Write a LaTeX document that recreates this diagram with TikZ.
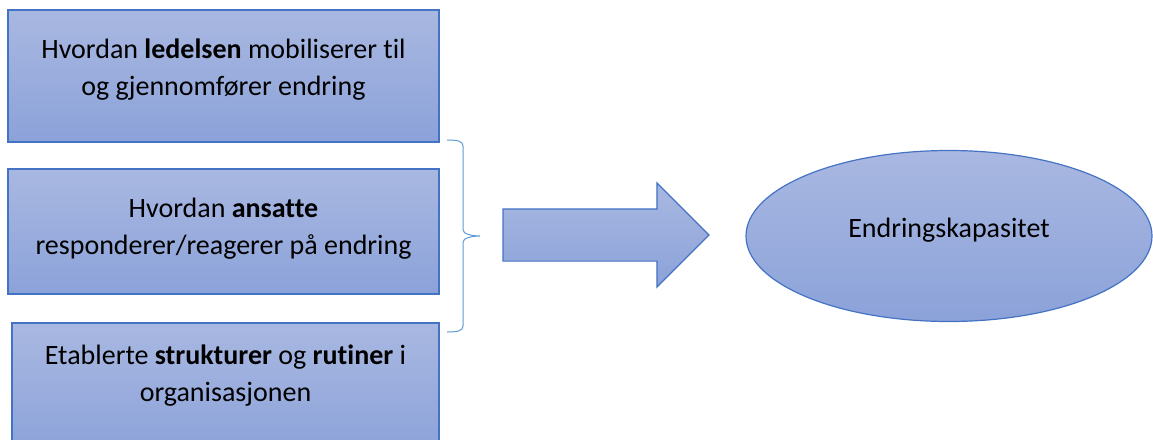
\documentclass[tikz,border=0pt]{standalone}
\usepackage{fontspec}
\setmainfont[Ligatures=NoCommon]{Carlito}
\usetikzlibrary{shapes.geometric,shapes.arrows}
\definecolor{fillTop}{HTML}{A9B8E1}
\definecolor{fillBot}{HTML}{8BA2D9}
\definecolor{edgeBlue}{HTML}{4472C4}
\definecolor{braceBlue}{HTML}{5B9BD5}
\tikzset{shade blue/.style={top color=fillTop,bottom color=fillBot,draw=edgeBlue,line width=1.2pt},
box/.style={shade blue,minimum width=431pt,minimum height=132pt,inner sep=0pt,align=center,font=\fontsize{28}{37}\selectfont},
bigarrow/.style={shade blue,single arrow,single arrow head extend=26pt,minimum height=206pt,minimum width=0pt,inner xsep=0pt,inner ysep=25.5pt,shape border rotate=0},
result/.style={shade blue,ellipse,minimum width=406pt,minimum height=171pt,inner sep=0pt,font=\fontsize{28}{37}\selectfont},
curly/.style={draw=braceBlue,line width=1pt}}
\begin{document}
\begin{tikzpicture}[x=1pt,y=-1pt]
\useasboundingbox (0,0) rectangle (1153,439);
\node[box,text depth=18pt] (lead) at (223.5,76) {Hvordan \textbf{ledelsen} mobiliserer til\\og gjennomfører endring};
\node[box,minimum height=125pt,text depth=11pt] (staff) at (223.5,231.5) {Hvordan \textbf{ansatte}\\responderer/reagerer på endring};
\node[box,minimum width=427pt,text depth=32pt] (struct) at (225.5,389) {Etablerte \textbf{strukturer} og \textbf{rutiner} i\\organisasjonen};
\coordinate (bracetop) at (447,140);
\coordinate (bracebot) at (447,332);
\draw[curly] (bracetop) .. controls +(10,0) and +(0,-5) .. ++(16,6) -- ++(0,84)
  .. controls +(0,4) and +(-8,0) .. ++(17,6) .. controls +(-8,0) and +(0,-4) .. ++(-17,6)
  -- ++(0,84) .. controls +(0,5) and +(10,0) .. (bracebot);
\node[bigarrow] (arrow) at (593,235) {};
\node[result,text depth=17pt] (capacity) at (949,236) {Endringskapasitet};
\end{tikzpicture}
\end{document}
